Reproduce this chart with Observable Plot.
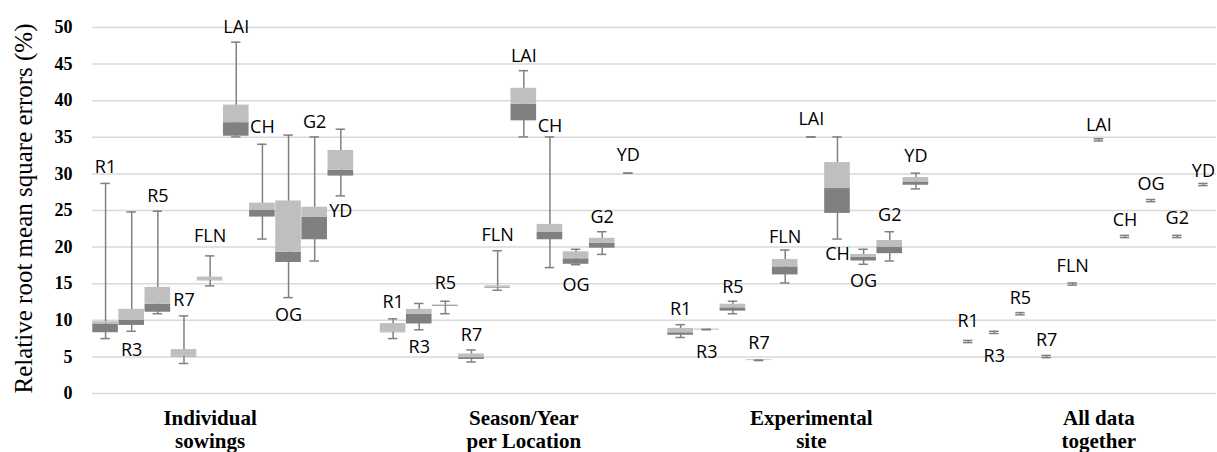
<!DOCTYPE html>
<html><head><meta charset="utf-8">
<script src="https://cdn.jsdelivr.net/npm/d3@7"></script>
<script src="https://cdn.jsdelivr.net/npm/@observablehq/plot@0.6"></script>
<style>html,body{margin:0;padding:0;background:#fff;overflow:hidden}</style>
</head><body><div id="chart"></div>
<script>
const categories = ["Individual\nsowings", "Season/Year\nper Location", "Experimental\nsite", "All data\ntogether"];
const variables = ["R1", "R3", "R5", "R7", "FLN", "LAI", "CH", "OG", "G2", "YD"];
const yTicks = [0, 5, 10, 15, 20, 25, 30, 35, 40, 45, 50];
const yTitle = "Relative root mean square errors (%)";

// per category, per variable (R1 ... YD)
const minVals = [
  [7.5, 8.5, 10.9, 4.1, 14.7, 35.05, 21.1, 13.1, 18.1, 27.0],
  [7.5, 8.7, 10.9, 4.3, 14.1, 35.05, 17.2, 17.6, 19.0, 30.1],
  [7.65, 8.7, 10.9, 4.5, 15.1, 35.05, 21.1, 17.65, 18.1, 27.95],
  [6.95, 8.2, 10.75, 4.9, 14.8, 34.5, 21.3, 26.2, 21.3, 28.4]
];
const q1Vals = [
  [8.3, 9.3, 11.1, 5.0, 15.4, 35.15, 24.1, 17.9, 21.0, 29.7],
  [8.3, 9.5, 11.9, 4.65, 14.4, 37.25, 21.0, 17.65, 19.85, 30.1],
  [7.95, 8.7, 11.25, 4.5, 16.2, 35.05, 24.6, 18.1, 19.1, 28.45],
  [6.95, 8.2, 10.75, 4.9, 14.8, 34.5, 21.3, 26.2, 21.3, 28.4]
];
const medianVals = [
  [9.5, 10.0, 12.2, 5.1, 15.45, 37.0, 25.0, 19.3, 24.05, 30.5],
  [8.35, 10.8, 12.0, 4.9, 14.5, 39.5, 22.0, 18.4, 20.5, 30.1],
  [8.3, 8.75, 11.7, 4.55, 17.3, 35.05, 28.0, 18.6, 20.0, 28.9],
  [6.95, 8.2, 10.75, 4.9, 14.8, 34.5, 21.3, 26.2, 21.3, 28.4]
];
const q3Vals = [
  [9.8, 11.5, 14.5, 6.0, 15.9, 39.4, 26.0, 26.3, 25.45, 33.2],
  [9.55, 11.5, 12.1, 5.4, 14.7, 41.7, 23.1, 19.35, 21.2, 30.1],
  [8.9, 8.8, 12.2, 4.6, 18.3, 35.05, 31.55, 19.0, 20.9, 29.5],
  [6.95, 8.2, 10.75, 4.9, 14.8, 34.5, 21.3, 26.2, 21.3, 28.4]
];
const maxVals = [
  [28.7, 24.8, 24.9, 10.6, 18.8, 48.0, 34.05, 35.3, 35.05, 36.1],
  [10.2, 12.3, 12.6, 5.95, 19.5, 44.1, 35.05, 19.7, 22.1, 30.1],
  [9.4, 8.8, 12.6, 4.6, 19.6, 35.05, 35.05, 19.7, 22.1, 30.1],
  [7.25, 8.5, 11.05, 5.2, 15.1, 34.8, 21.6, 26.5, 21.6, 28.7]
];
// height (in %) of each variable's name label
const labelVals = [
  [30.95, 5.9, 27.0, 12.75, 21.5, 50.1, 36.4, 10.7, 37.0, 24.95],
  [12.4, 6.3, 15.1, 7.95, 21.6, 46.1, 36.5, 14.8, 24.05, 32.5],
  [11.5, 5.7, 14.5, 6.9, 21.4, 37.5, 19.0, 15.35, 24.35, 32.45],
  [9.9, 5.15, 13.05, 7.3, 17.45, 36.7, 23.7, 28.55, 23.9, 30.4]
];

const slotsPerCategory = variables.length + 1;
const rows = [];
categories.forEach((c, g) => variables.forEach((v, i) => rows.push({
  name: v, slot: g * slotsPerCategory + i,
  min: minVals[g][i], q1: q1Vals[g][i], med: medianVals[g][i], q3: q3Vals[g][i], max: maxVals[g][i],
  label: labelVals[g][i]
})));

const labelShift = [-0.5, 0.5, 0.5, 0.5];
const capHalf = 0.18, boxHalf = 0.49;

const plot = Plot.plot({
  width: 1217, height: 452,
  marginLeft: 92, marginRight: 1, marginTop: 27, marginBottom: 59,
  style: {background: "#fff", overflow: "visible"},
  x: {domain: [-0.5, 42.5], axis: null},
  y: {domain: [0, 50], axis: null},
  marks: [
    Plot.gridY(yTicks, {stroke: "#d9d9d9", strokeOpacity: 1, strokeWidth: 1.5}),
    Plot.axisY(yTicks, {tickSize: 0, tickPadding: 20, fontSize: 18, fontWeight: "bold", fontFamily: "Liberation Serif", fill: "#000", label: null}),
    Plot.ruleX(rows, {x: "slot", y1: "min", y2: "max", stroke: "#808080", strokeWidth: 1.5}),
    Plot.ruleY(rows, {y: "max", x1: d => d.slot - capHalf, x2: d => d.slot + capHalf, stroke: "#808080", strokeWidth: 1.5}),
    Plot.ruleY(rows, {y: "min", x1: d => d.slot - capHalf, x2: d => d.slot + capHalf, stroke: "#808080", strokeWidth: 1.5}),
    Plot.rect(rows, {x1: d => d.slot - boxHalf, x2: d => d.slot + boxHalf, y1: "q1", y2: "med", fill: "#808080"}),
    Plot.rect(rows, {x1: d => d.slot - boxHalf, x2: d => d.slot + boxHalf, y1: "med", y2: "q3", fill: "#bfbfbf"}),
    Plot.text(rows, {x: "slot", y: "label", text: "name", fontFamily: "Open Sans", fontSize: 18, fill: "#000"}),
    Plot.text(categories, {x: (d, i) => i * slotsPerCategory + 4.5 + labelShift[i], frameAnchor: "bottom", lineAnchor: "top", dy: 15, lineHeight: 1.1, fontFamily: "Liberation Serif", fontWeight: "bold", fontSize: 21, fill: "#000"}),
    Plot.text([yTitle], {frameAnchor: "left", textAnchor: "middle", lineAnchor: "middle", rotate: -90, dx: -69, dy: -2, fontFamily: "Liberation Serif", fontSize: 25, fill: "#000"})
  ]
});
document.getElementById("chart").appendChild(plot);
</script>
</body></html>
